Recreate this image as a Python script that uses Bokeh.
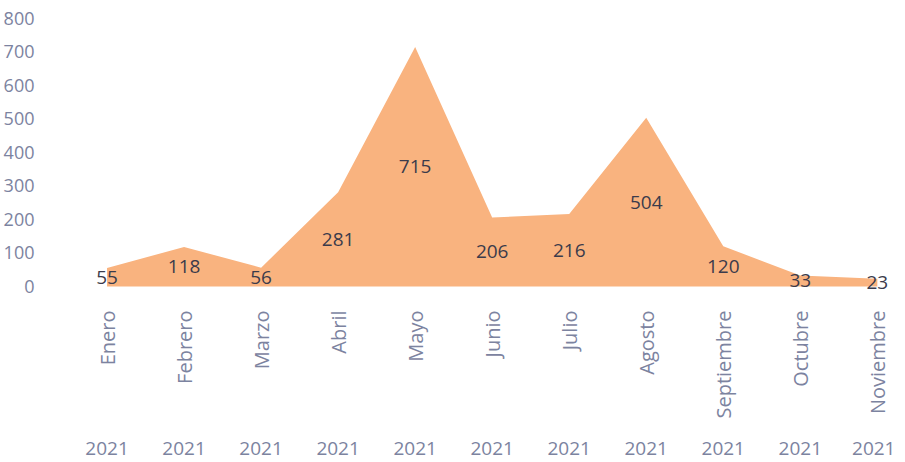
import math
from bokeh.plotting import figure
from bokeh.models import Range1d, FixedTicker, LinearAxis, ColumnDataSource
from bokeh.core.properties import value
from bokeh.embed import file_html
from bokeh.resources import INLINE

months = ["Enero", "Febrero", "Marzo", "Abril", "Mayo", "Junio", "Julio",
          "Agosto", "Septiembre", "Octubre", "Noviembre"]
years = ["2021"] * 11
values = [55, 118, 56, 281, 715, 206, 216, 504, 120, 33, 23]
y_ticks = [0, 100, 200, 300, 400, 500, 600, 700, 800]

FONT = "Open Sans"
TICK_COLOR = "#7C83A0"
FILL = "#F9B37F"
LABEL_COLOR = "#3B3B4B"

xs = list(range(len(months)))
src = ColumnDataSource(dict(
    x=xs, v=values, half=[v / 2 for v in values], lab=[str(v) for v in values]))

p = figure(width=895, height=462, output_backend="svg", toolbar_location=None,
           x_range=Range1d(-0.76, 10.21), y_range=Range1d(-18, 800),
           min_border_top=18, min_border_right=2, min_border_left=0,
           min_border_bottom=170)
p.outline_line_color = None
p.background_fill_color = "white"
p.border_fill_color = "white"
p.xgrid.visible = False
p.ygrid.visible = False

p.varea(x="x", y1=0, y2="v", source=src, fill_color=FILL, fill_alpha=1.0)
p.text(x="x", y="half", text="lab", source=src, text_align="center",
       text_baseline="middle", text_font=value(FONT), text_font_size="19px",
       text_color=LABEL_COLOR)

yax = p.yaxis[0]
yax.ticker = FixedTicker(ticks=y_ticks)
yax.axis_line_color = None
yax.major_tick_line_color = None
yax.minor_tick_line_color = None
yax.major_label_text_font = FONT
yax.major_label_text_font_size = "18px"
yax.major_label_text_color = TICK_COLOR
yax.major_label_standoff = 8

xax = p.xaxis[0]
xax.ticker = FixedTicker(ticks=xs)
xax.major_label_overrides = {i: m for i, m in zip(xs, months)}
xax.major_label_orientation = math.pi / 2
xax.axis_line_color = None
xax.major_tick_line_color = None
xax.minor_tick_line_color = None
xax.major_label_text_font = FONT
xax.major_label_text_font_size = "20px"
xax.major_label_text_color = TICK_COLOR
xax.major_label_standoff = 12

yr = LinearAxis(ticker=FixedTicker(ticks=xs),
                major_label_overrides={i: y for i, y in zip(xs, years)})
yr.axis_line_color = None
yr.major_tick_line_color = None
yr.minor_tick_line_color = None
yr.major_label_text_font = FONT
yr.major_label_text_font_size = "19px"
yr.major_label_text_color = TICK_COLOR
yr.major_label_standoff = 14
p.add_layout(yr, "below")

open("out.html", "w").write(file_html(p, INLINE))
